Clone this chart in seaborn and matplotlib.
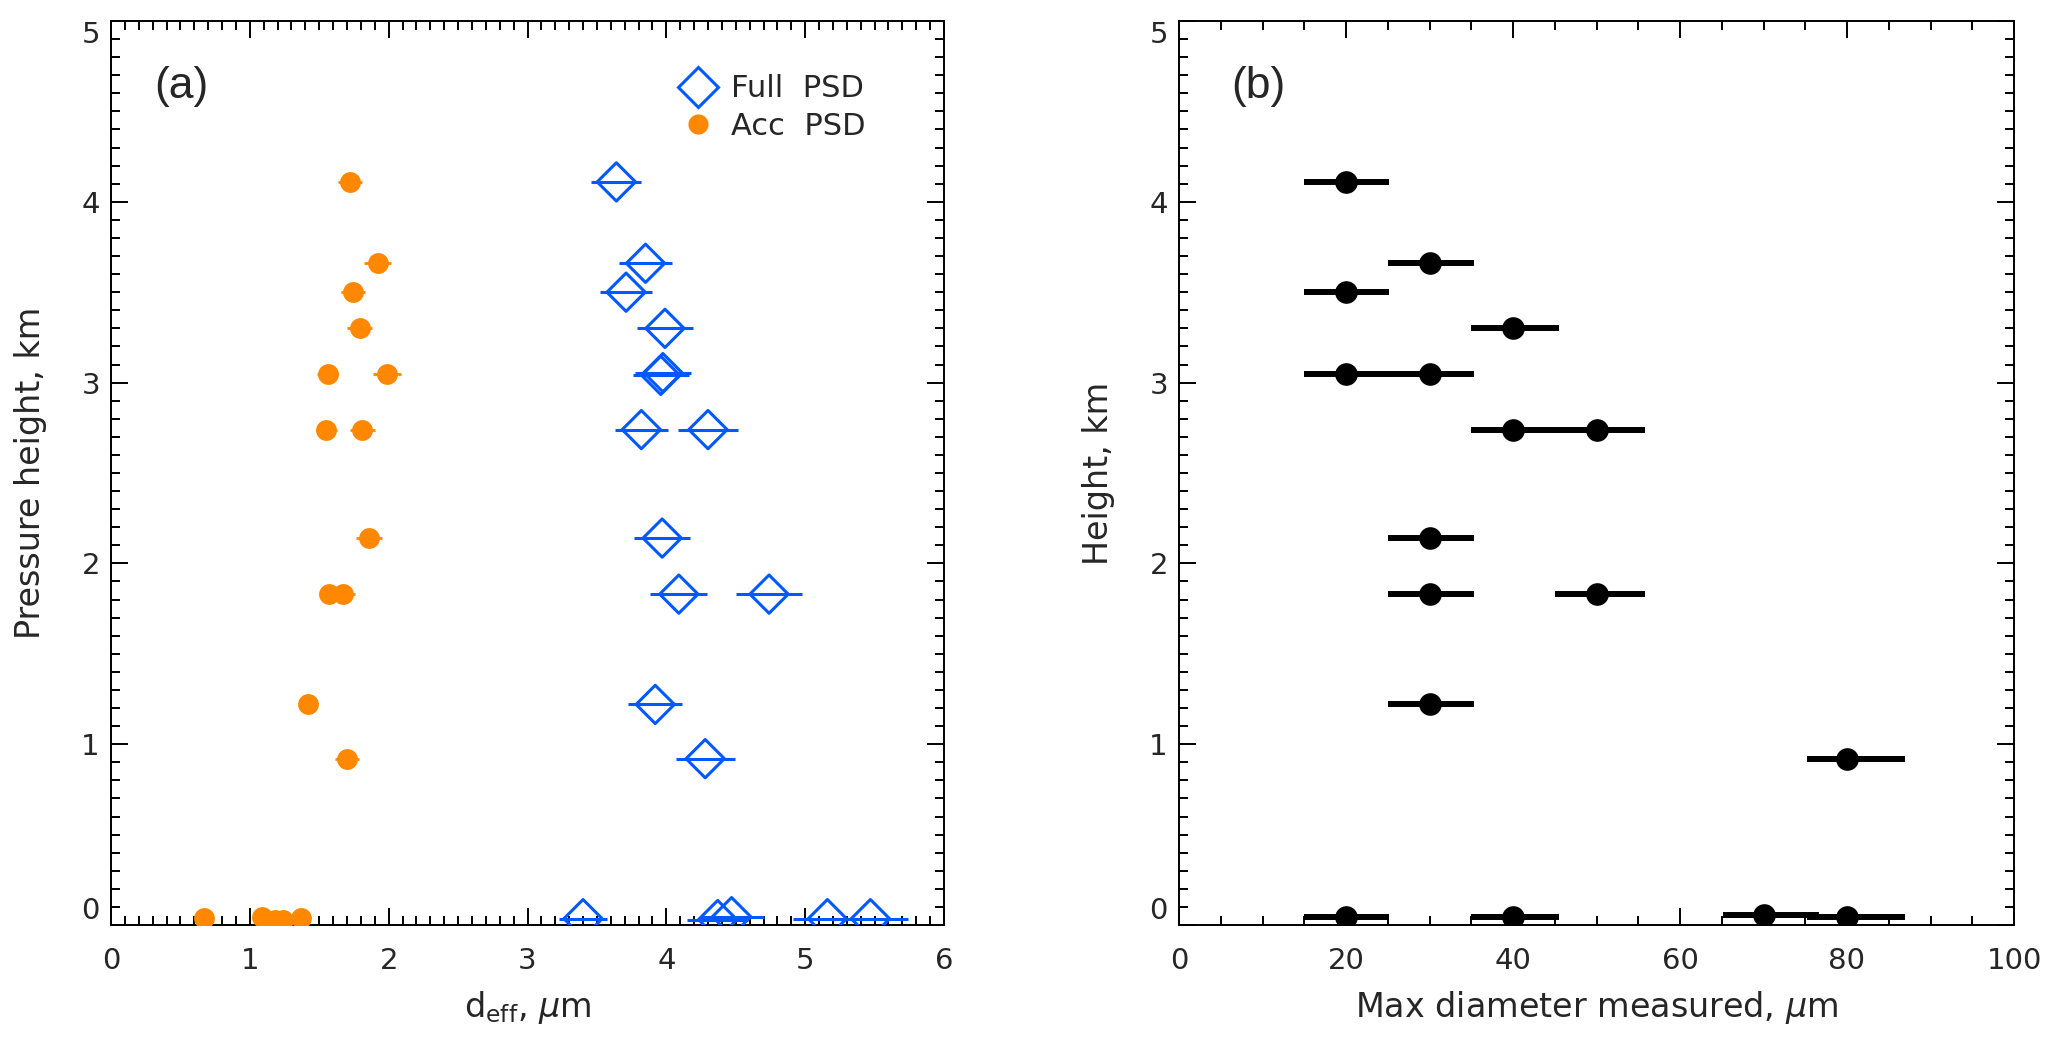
import numpy as np
import pandas as pd
import matplotlib
matplotlib.use("Agg")
import matplotlib.pyplot as plt
from matplotlib.lines import Line2D
from matplotlib.ticker import MultipleLocator
import seaborn as sns

# ---------------- data ----------------
# Panel (a): accumulation-mode PSD effective diameter (orange dots)
acc_deff = [1.72, 1.92, 1.74, 1.79, 1.56, 1.99, 1.55, 1.81, 1.86, 1.57, 1.67,
            1.42, 1.70, 0.67, 1.09, 1.18, 1.24, 1.37]
acc_height = [4.11, 3.66, 3.50, 3.30, 3.05, 3.05, 2.74, 2.74, 2.14, 1.83, 1.83,
              1.22, 0.92, 0.037, 0.047, 0.03, 0.03, 0.036]
acc_err = [0.086, 0.095, 0.086, 0.089, 0.075, 0.10, 0.075, 0.09, 0.095, 0.07,
           0.09, 0.06, 0.086, 0.05, 0.05, 0.05, 0.05, 0.05]

# Panel (a): full PSD effective diameter (blue diamonds)
full_deff = [3.64, 3.85, 3.71, 3.99, 3.96, 3.975, 3.82, 4.30, 3.97, 4.09, 4.74,
             3.92, 4.28, 3.40, 4.37, 4.47, 5.16, 5.47]
full_height = [4.11, 3.66, 3.50, 3.30, 3.04, 3.055, 2.74, 2.74, 2.14, 1.83, 1.83,
               1.22, 0.92, 0.035, 0.03, 0.046, 0.035, 0.035]
full_err = [0.18, 0.19, 0.185, 0.20, 0.20, 0.20, 0.19, 0.215, 0.20, 0.205, 0.235,
            0.195, 0.213, 0.17, 0.22, 0.23, 0.25, 0.27]

# Panel (b): max diameter measured
max_diam = [20, 30, 20, 40, 20, 30, 40, 50, 30, 30, 50, 30, 80, 20, 40, 70, 80]
max_height = [4.11, 3.66, 3.50, 3.30, 3.05, 3.05, 2.74, 2.74, 2.14, 1.83, 1.83,
              1.22, 0.92, 0.045, 0.045, 0.055, 0.045]
max_err_lo = [5.0, 5.0, 5.0, 5.0, 5.0, 5.0, 5.0, 5.0, 5.0, 5.0, 5.0, 5.0, 4.8,
              5.0, 5.0, 4.9, 4.8]
max_err_hi = [5.15, 5.3, 5.15, 5.5, 5.15, 5.3, 5.5, 5.8, 5.3, 5.3, 5.8, 5.3, 7.0,
              5.15, 5.5, 6.6, 7.0]

xticks_a = [0, 1, 2, 3, 4, 5, 6]
xticks_b = [0, 20, 40, 60, 80, 100]
yticks = [0, 1, 2, 3, 4, 5]

ORANGE = "#FF8800"
BLUE = "#0058FF"
BLACK = "#000000"

# ---------------- style ----------------
sns.set_style("ticks")
plt.rcParams["font.family"] = ["DejaVu Sans"]
plt.rcParams["mathtext.fontset"] = "dejavusans"

fig = plt.figure(figsize=(20.66, 10.38), dpi=100)
W, H = 2066, 1038
ax_a = fig.add_axes([111 / W, (H - 925) / H, 833 / W, 904 / H])
ax_b = fig.add_axes([1179 / W, (H - 925) / H, 835 / W, 904 / H])

df_acc = pd.DataFrame({"deff": acc_deff, "h": acc_height, "err": acc_err})
df_full = pd.DataFrame({"deff": full_deff, "h": full_height, "err": full_err})
df_max = pd.DataFrame({"d": max_diam, "h": max_height,
                       "lo": max_err_lo, "hi": max_err_hi})

# ---- panel (a)
ax_a.errorbar(df_full["deff"], df_full["h"], xerr=df_full["err"], fmt="none",
              ecolor=BLUE, elinewidth=2.2, capsize=0, zorder=2)
sns.scatterplot(data=df_full, x="deff", y="h", ax=ax_a, marker="D", s=19.5 ** 2,
                facecolor="none", edgecolor=BLUE, linewidth=2.2, zorder=3,
                legend=False)
ax_a.errorbar(df_acc["deff"], df_acc["h"], xerr=df_acc["err"], fmt="none",
              ecolor=ORANGE, elinewidth=2.0, capsize=0, zorder=2)
sns.scatterplot(data=df_acc, x="deff", y="h", ax=ax_a, marker="o", s=15 ** 2,
                color=ORANGE, edgecolor=ORANGE, linewidth=0, zorder=3,
                legend=False)

# ---- panel (b)
ax_b.errorbar(df_max["d"], df_max["h"], xerr=[df_max["lo"], df_max["hi"]],
              fmt="none", ecolor=BLACK, elinewidth=4.3, capsize=0, zorder=2)
sns.scatterplot(data=df_max, x="d", y="h", ax=ax_b, marker="o", s=16.3 ** 2,
                color=BLACK, edgecolor=BLACK, linewidth=0, zorder=3,
                legend=False)

tick_fs = 21
label_fs = 24

for ax, xt, xmin_step, xlabel, ylabel in [
        (ax_a, xticks_a, 0.1, r"d$_{\rm eff}$, $\mu$m", "Pressure height, km"),
        (ax_b, xticks_b, 5, r"Max diameter measured, $\mu$m", "Height, km")]:
    ax.set_xlim(xt[0], xt[-1])
    ax.set_ylim(0, 5)
    ax.set_xticks(xt)
    ax.set_yticks(yticks)
    ax.set_xticklabels([str(v) for v in xt])
    ax.set_yticklabels([str(v) for v in yticks])
    ax.xaxis.set_minor_locator(MultipleLocator(xmin_step))
    ax.yaxis.set_minor_locator(MultipleLocator(0.1))
    ax.tick_params(which="both", direction="in", top=True, right=True,
                   color="black", width=1.4)
    ax.tick_params(which="major", length=12.5)
    ax.tick_params(which="minor", length=6.5)
    ax.tick_params(axis="x", which="major", pad=16, labelsize=tick_fs)
    ax.tick_params(axis="y", which="major", pad=8, labelsize=tick_fs)
    for sp in ax.spines.values():
        sp.set_linewidth(1.4)
        sp.set_color("black")
        sp.set_visible(True)
    ax.set_xlabel(xlabel, fontsize=label_fs)
    ax.set_ylabel(ylabel, fontsize=label_fs)
    ax.xaxis.set_label_coords(0.5, -0.071)
    ax.yaxis.set_label_coords(-0.077, 0.5)
    ylabs = ax.get_yticklabels()
    ylabs[0].set_verticalalignment("bottom")
    ylabs[-1].set_verticalalignment("top")

ax_a.text(0.084, 0.928, "(a)", transform=ax_a.transAxes, ha="center",
          va="center", fontsize=32, family=["Liberation Sans", "DejaVu Sans"])
ax_b.text(0.095, 0.928, "(b)", transform=ax_b.transAxes, ha="center",
          va="center", fontsize=32, family=["Liberation Sans", "DejaVu Sans"])

handles = [
    Line2D([], [], ls="none", marker="D", markersize=20, markerfacecolor="none",
           markeredgecolor=BLUE, markeredgewidth=2.2),
    Line2D([], [], ls="none", marker="o", markersize=14.5, markerfacecolor=ORANGE,
           markeredgecolor=ORANGE, markeredgewidth=0),
]
ax_a.legend(handles, ["Full  PSD", "Acc  PSD"], loc="upper left",
            bbox_to_anchor=(0.686, 0.941), frameon=False, fontsize=22,
            borderpad=0, borderaxespad=0, handlelength=1.0, handletextpad=0.6,
            labelspacing=0.28)

fig.savefig("out.png", dpi=100, facecolor="white")
